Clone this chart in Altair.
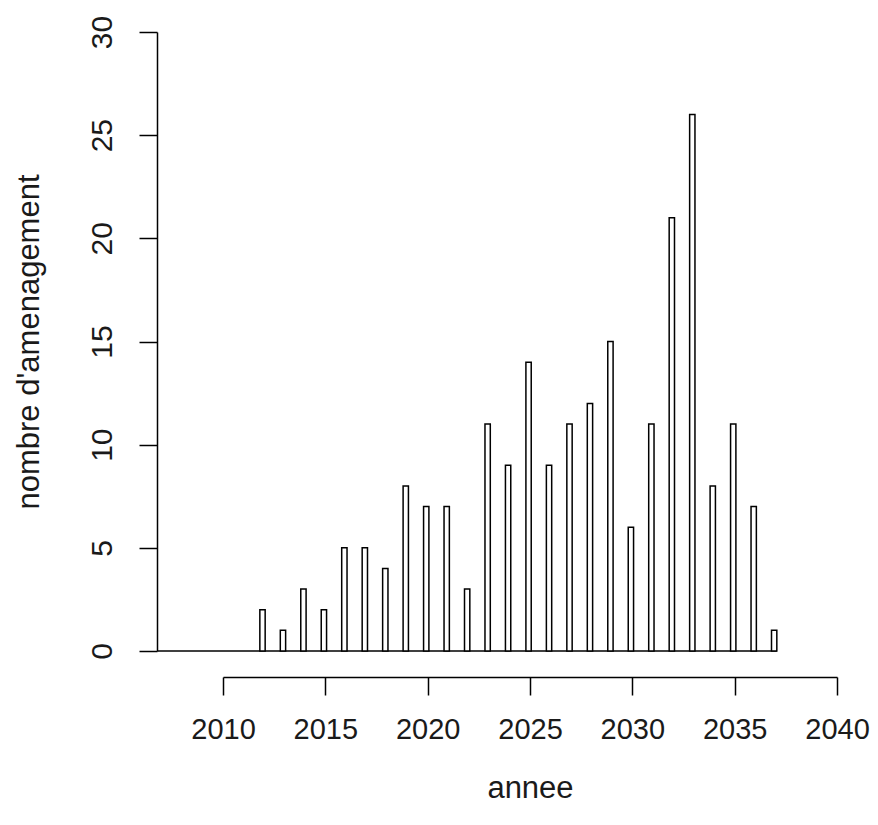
import altair as alt
import pandas as pd

years = list(range(2012, 2038))
counts = [2, 1, 3, 2, 5, 5, 4, 8, 7, 7, 3, 11, 9, 14, 9, 11, 12, 15, 6, 11, 21, 26, 8, 11, 7, 1]
x_ticks = [2010, 2015, 2020, 2025, 2030, 2035, 2040]
y_ticks = [0, 5, 10, 15, 20, 25, 30]
baseline_span = [2006.8, 2037.06]

bar_left = -0.2
bar_right = 0.06

df = pd.DataFrame({"annee": years, "n": counts})
df["x0"] = df["annee"] + bar_left
df["x1"] = df["annee"] + bar_right
df["zero"] = 0

base_df = pd.DataFrame({"a": [baseline_span[0]], "b": [baseline_span[1]], "y": [0]})

FONT = "Liberation Sans"
TXT = "#1a1a1a"

xscale = alt.Scale(domain=[2010, 2040], nice=False, zero=False)
yscale = alt.Scale(domain=[0, 30], nice=False)

xaxis = alt.Axis(values=x_ticks, format="d", grid=False, offset=26, tickSize=18,
                 labelPadding=20, labelFontSize=29, labelFont=FONT, labelColor=TXT,
                 titleFontSize=31, titleFont=FONT, titleColor=TXT, titleFontWeight="normal",
                 titlePadding=29, domainColor="black", tickColor="black",
                 domainWidth=1.5, tickWidth=1.5, labelFlush=False, labelOverlap=False)
yaxis = alt.Axis(values=y_ticks, grid=False, offset=66, tickSize=18,
                 labelAngle=270, labelAlign="center", labelBaseline="bottom",
                 labelPadding=22, labelFontSize=30, labelFont=FONT, labelColor=TXT,
                 titleFontSize=31, titleFont=FONT, titleColor=TXT, titleFontWeight="normal",
                 titlePadding=42, domainColor="black", tickColor="black",
                 domainWidth=1.5, tickWidth=1.5, labelFlush=False, labelOverlap=False)

baseline = alt.Chart(base_df).mark_rule(color="black", strokeWidth=1.5).encode(
    x=alt.X("a:Q", scale=xscale, axis=xaxis, title="annee"),
    x2="b:Q",
    y=alt.Y("y:Q", scale=yscale, axis=yaxis, title="nombre d'amenagement"),
)

bars = alt.Chart(df).mark_rect(fill="white", stroke="black", strokeWidth=1.5).encode(
    x=alt.X("x0:Q", scale=xscale),
    x2="x1:Q",
    y=alt.Y("n:Q", scale=yscale),
    y2="zero:Q",
)

chart = (baseline + bars).properties(
    width=614, height=619,
    autosize=alt.AutoSizeParams(type="none"),
    padding={"left": 215, "top": 24, "right": 33, "bottom": 168},
    background="white",
).configure_view(stroke=None)

chart.save("out.html", embed_options={"renderer": "svg", "actions": False})
